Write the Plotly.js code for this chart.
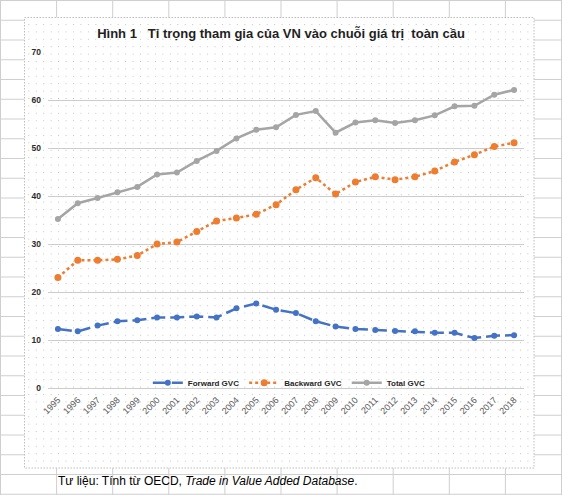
<!DOCTYPE html>
<html><head><meta charset="utf-8">
<script src="https://cdn.plot.ly/plotly-3.0.1.min.js"></script>
<style>
html,body{margin:0;padding:0;width:562px;height:495px;overflow:hidden;background:#fff;}
#bg{position:absolute;left:0;top:0;}
#chart{position:absolute;left:0;top:0;width:562px;height:495px;}
</style></head><body>
<svg id="bg" width="562" height="495" xmlns="http://www.w3.org/2000/svg"></svg>
<div id="chart"></div>
<script>
// ---- data ----
const years = ['1995','1996','1997','1998','1999','2000','2001','2002','2003','2004','2005','2006',
               '2007','2008','2009','2010','2011','2012','2013','2014','2015','2016','2017','2018'];
const forwardGVC  = [12.3,11.8,13.0,13.9,14.1,14.7,14.7,14.9,14.7,16.6,17.6,16.3,
                     15.6,13.9,12.8,12.3,12.1,11.9,11.8,11.5,11.5,10.4,10.9,11.0];
const backwardGVC = [23.0,26.6,26.6,26.8,27.6,30.0,30.4,32.6,34.8,35.4,36.2,38.2,
                     41.3,43.8,40.4,42.9,44.0,43.4,44.0,45.2,47.1,48.6,50.3,51.1];
const totalGVC    = [35.2,38.5,39.6,40.8,41.9,44.5,44.9,47.3,49.4,52.0,53.8,54.3,
                     56.9,57.7,53.2,55.3,55.8,55.2,55.8,56.8,58.7,58.8,61.1,62.1];
const seriesNames = ['Forward GVC','Backward GVC','Total GVC'];
const yTicks = [0,10,20,30,40,50,60,70];
const titleText = 'Hình 1\u00a0\u00a0\u00a0Tỉ trọng tham gia của VN vào chuỗi giá trị\u00a0\u00a0toàn cầu';
const sourceText = 'Tư liệu: Tính từ OECD, <i>Trade in Value Added Database</i>.';

// ---- background: spreadsheet cells + chart area ----
const NS = 'http://www.w3.org/2000/svg';
const bg = document.getElementById('bg');
function el(tag, attrs){const e=document.createElementNS(NS,tag);for(const k in attrs)e.setAttribute(k,attrs[k]);return e;}
const defs = el('defs',{});
const pat = el('pattern',{id:'dots',patternUnits:'userSpaceOnUse',x:5.95,y:1.8,width:7.45,height:7.4});
pat.appendChild(el('rect',{x:0,y:0,width:1,height:1,fill:'#c4c4c4'}));
defs.appendChild(pat);
bg.appendChild(defs);
for(let x=0.5; x<563; x+=56.1){
  bg.appendChild(el('line',{x1:x,y1:0,x2:x,y2:495,stroke:'#cfcfcf','stroke-width':1}));
}
for(let y=0.5; y<496; y+=19.75){
  bg.appendChild(el('line',{x1:0,y1:y,x2:562,y2:y,stroke:'#cfcfcf','stroke-width':1}));
}
bg.appendChild(el('rect',{x:24.5,y:17.5,width:509.5,height:450.5,fill:'#ffffff'}));
bg.appendChild(el('rect',{x:24.5,y:17.5,width:509.5,height:450.5,fill:'url(#dots)',stroke:'#bdbdbd','stroke-width':1,'stroke-dasharray':'1.5,1.5'}));

// ---- chart ----
const styles = [
  {color:'#4472C4', dash:'14px,5px', msize:6},
  {color:'#ED7D31', dash:'dot', msize:7},
  {color:'#A5A5A5', dash:'solid', msize:6}
];
const values = [forwardGVC, backwardGVC, totalGVC];
const traces = values.map((v,i)=>({
  type:'scatter', mode:'lines+markers', name:seriesNames[i],
  x:years, y:v,
  line:{color:styles[i].color, width:2.5, dash:styles[i].dash},
  marker:{color:styles[i].color, size:styles[i].msize, symbol:'circle'}
}));

const W=562, H=495, L=48.3, R=523.7, T=52, B=388.3;
const layout = {
  width:W, height:H,
  margin:{l:L, r:W-R, t:T, b:H-B, pad:0},
  paper_bgcolor:'rgba(0,0,0,0)', plot_bgcolor:'rgba(0,0,0,0)',
  font:{family:'Liberation Sans, Arial, sans-serif'},
  title:{text:'<b>'+titleText+'</b>', x:0.5, xref:'container', xanchor:'center',
         y:1-33/H, yref:'container', yanchor:'middle',
         font:{size:13, color:'#1f1f1f', family:'Liberation Sans, Arial, sans-serif'}},
  xaxis:{type:'category', categoryorder:'array', categoryarray:years,
         range:[-0.5, years.length-0.5], showgrid:false, zeroline:false, showline:false,
         ticks:'', tickangle:-45, ticklabelstandoff:4,
         tickfont:{size:9, color:'#595959'}, fixedrange:true},
  yaxis:{range:[0,70], tickvals:yTicks, ticktext:yTicks.map(String),
         showgrid:true, gridcolor:'#cccccc', gridwidth:1,
         zeroline:true, zerolinecolor:'#cccccc', zerolinewidth:1, showline:false,
         ticks:'', ticklabelstandoff:6,
         tickfont:{size:8.5, color:'#2b2b2b', weight:'bold'}, fixedrange:true},
  showlegend:true,
  legend:{orientation:'h', x:(148-L)/(R-L), xanchor:'left', y:(B-383)/(B-T), yanchor:'middle',
          bgcolor:'rgba(0,0,0,0)', borderwidth:0,
          font:{size:8, color:'#262626', weight:'bold'}},
  annotations:[{text:sourceText, xref:'paper', yref:'paper',
                x:(56.7-L)/(R-L), xanchor:'left', y:(B-481.5)/(B-T), yanchor:'middle',
                showarrow:false, font:{size:12, color:'#000000'}}]
};
Plotly.newPlot('chart', traces, layout, {displayModeBar:false, staticPlot:true});
</script>
</body></html>
